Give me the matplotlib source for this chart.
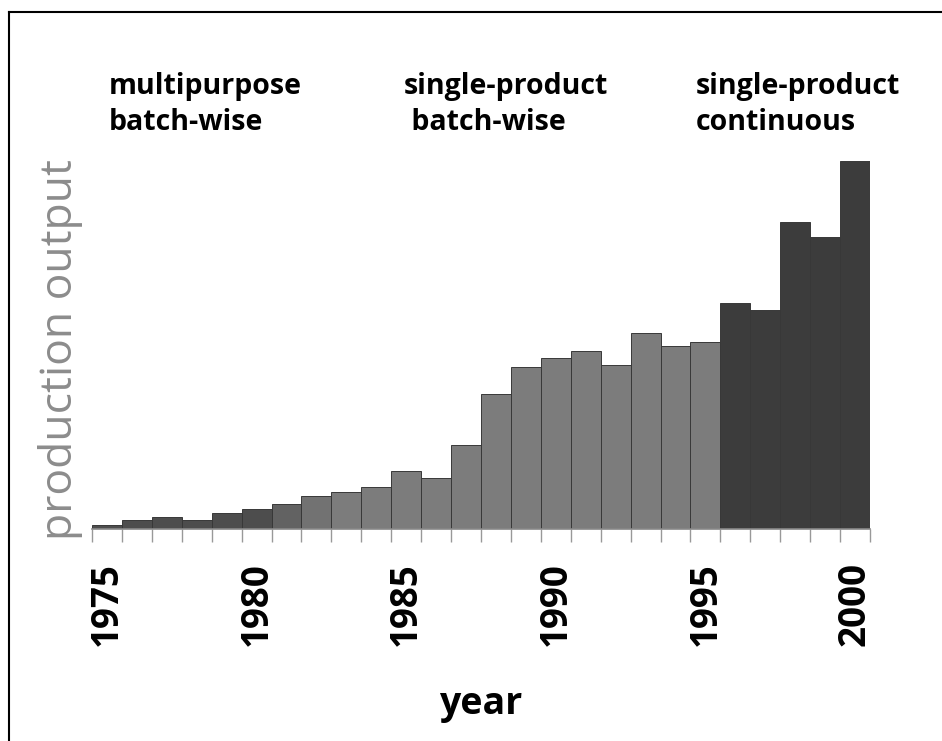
import numpy as np
import matplotlib
matplotlib.use("Agg")
import matplotlib.pyplot as plt
from matplotlib.lines import Line2D

# data (arbitrary units, no y scale in the original)
years = list(range(1975, 2001))
output = [4, 9, 12, 9, 16, 20, 25, 33, 37, 42, 58, 51, 84, 135, 162, 171,
          178, 164, 196, 183, 187, 226, 219, 307, 292, 368]
bar_colors = (["#4d4d4d"] * 6 + ["#626262", "#727272"] +
              ["#7c7c7c"] * 13 + ["#3c3c3c"] * 5)
label_years = [1975, 1980, 1985, 1990, 1995, 2000]
phases = ["multipurpose\nbatch-wise", "single-product\n batch-wise", "single-product\ncontinuous"]
phase_x = [109, 404, 696]   # left edge in pixels

W, H = 942, 741
fig = plt.figure(figsize=(W / 100, H / 100), dpi=100)
fig.patch.set_facecolor("white")

ax = fig.add_axes([92 / W, (H - 529) / H, (870 - 92) / W, (529 - 150) / H])
ax.bar(years, output, width=1.0, color=bar_colors, edgecolor="#383838", linewidth=0.7)
ax.set_xlim(1974.5, 2000.5)
ax.set_ylim(0, 379)

for s in ["top", "right", "left"]:
    ax.spines[s].set_visible(False)
ax.spines["bottom"].set_color("#888888")
ax.spines["bottom"].set_linewidth(1.2)
ax.set_yticks([])

ax.set_xticks(label_years)
ax.set_xticklabels([str(y) for y in label_years], rotation=90,
                   fontsize=26.5, fontweight="bold", family="Open Sans")
ax.tick_params(axis="x", which="major", length=0, pad=24)
ax.set_xticks(np.arange(1974.5, 2001, 1.0), minor=True)
ax.tick_params(axis="x", which="minor", length=9, width=1, color="#999999")

ax.set_xlabel("year", fontsize=27, fontweight="bold", family="Open Sans", labelpad=28)
fig.text(61 / W, 1 - 350 / H, "production output", rotation=90, ha="center", va="center",
         fontsize=32, color="#8c8c8c", family="Open Sans", fontweight="medium")

for txt, x in zip(phases, phase_x):
    fig.text(x / W, 1 - 72 / H, txt, ha="left", va="top", fontsize=20.5,
             fontweight="bold", family="Open Sans", linespacing=1.3)

# frame lines (only top and left are visible in the original)
fig.add_artist(Line2D([9 / W, 1], [1 - 12 / H, 1 - 12 / H], color="black", lw=1.5))
fig.add_artist(Line2D([9 / W, 9 / W], [0, 1 - 12 / H], color="black", lw=1.5))

fig.savefig("out.png", dpi=100)
